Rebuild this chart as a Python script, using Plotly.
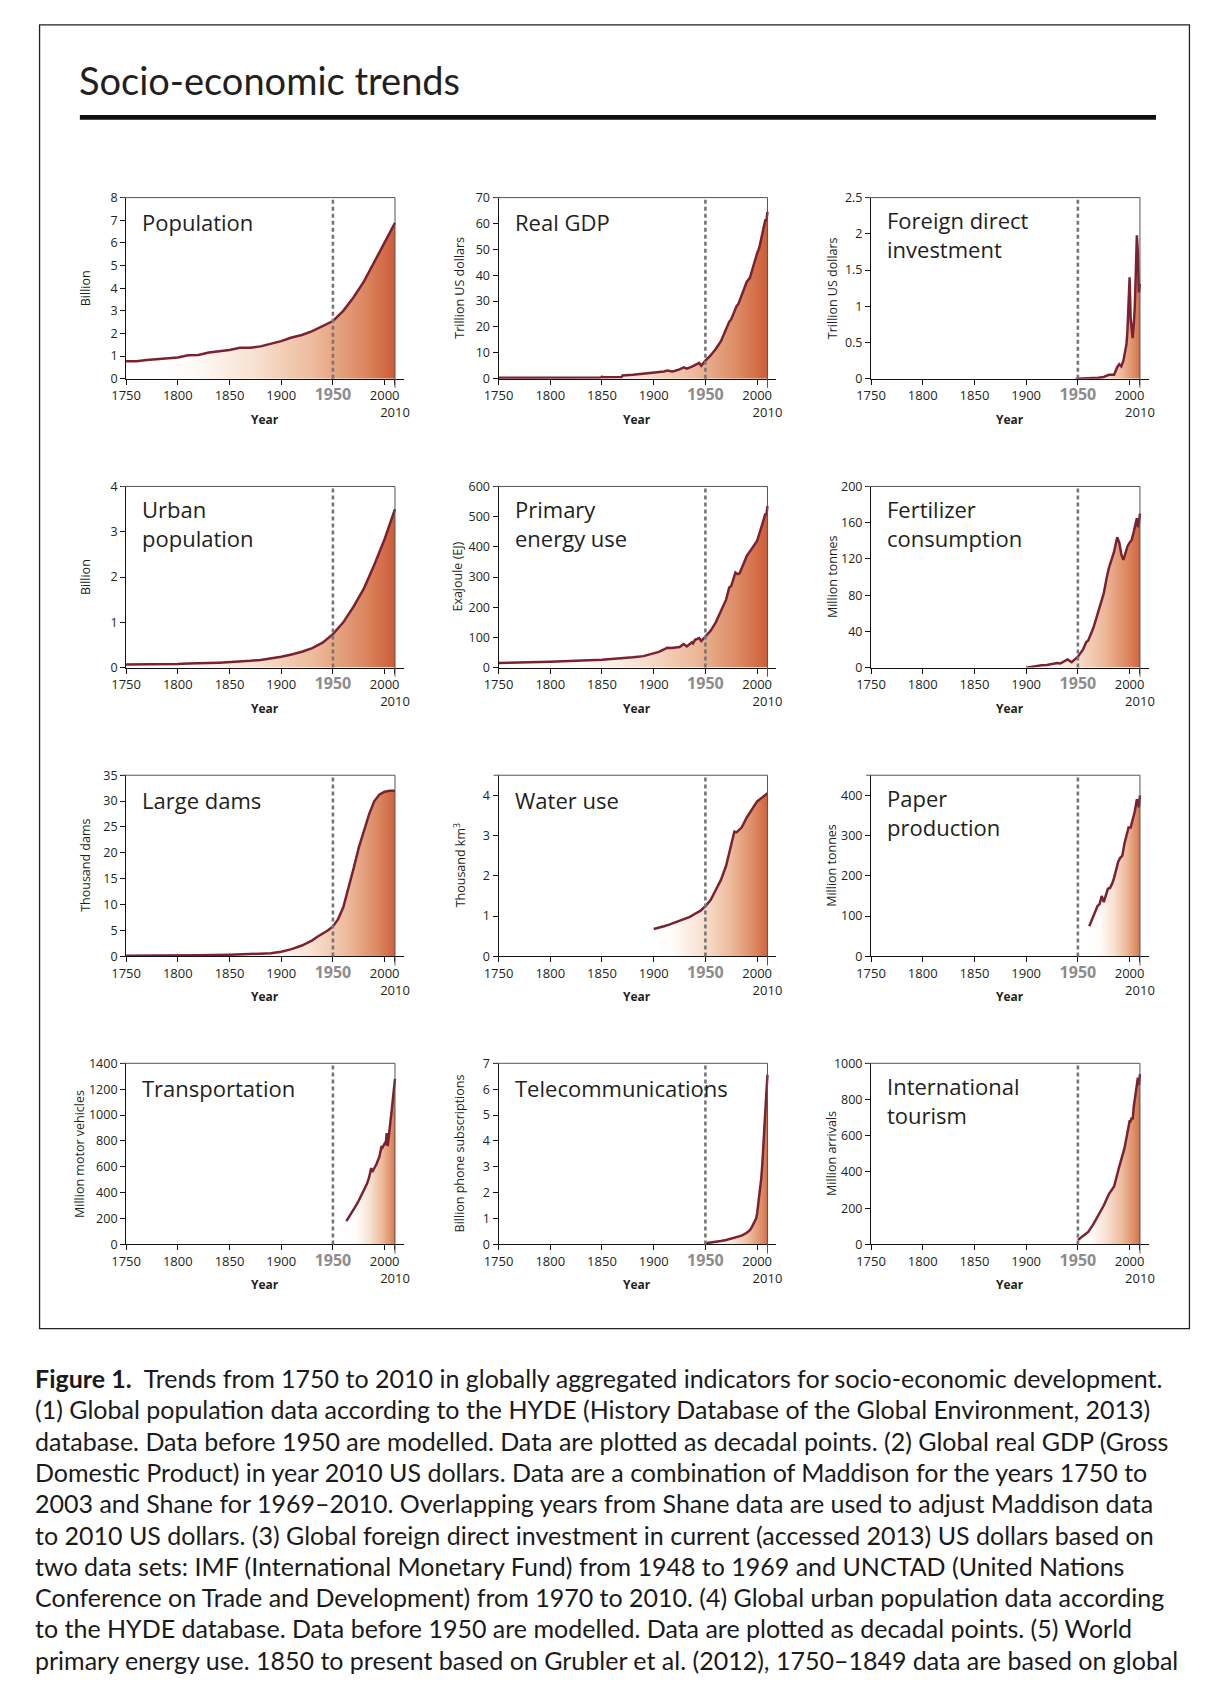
import plotly.graph_objects as go

W, H = 1220, 1692

# ---------------- data ----------------
pop_years = list(range(1750, 2011, 10))
population = [0.77, 0.77, 0.83, 0.87, 0.93, 0.94, 1.04, 1.05, 1.16, 1.21, 1.27, 1.37, 1.37, 1.43,
              1.55, 1.66, 1.82, 1.93, 2.10, 2.33, 2.55, 3.00, 3.60, 4.30, 5.15, 6.00, 6.88]

gdp_years = [1750, 1800, 1820, 1849, 1850, 1851, 1869, 1870, 1880, 1890, 1900, 1910, 1913, 1918, 1920,
             1925, 1929, 1932, 1937, 1940, 1944, 1946, 1950, 1955, 1960, 1965, 1970, 1973, 1975, 1980,
             1982, 1985, 1990, 1993, 1995, 2000, 2002, 2005, 2008, 2009, 2010]
gdp = [0.35, 0.4, 0.45, 0.5, 0.8, 0.55, 0.7, 1.3, 1.5, 1.9, 2.3, 2.8, 3.2, 2.8, 3.0,
       3.6, 4.4, 3.9, 4.7, 5.4, 6.1, 5.0, 7.0, 9.0, 11.5, 14.5, 19.0, 22.0, 23.0, 28.0,
       29.0, 32.0, 37.5, 39.0, 42.0, 48.5, 50.5, 56.0, 61.5, 61.0, 64.5]

fdi_years = [1948, 1960, 1970, 1975, 1980, 1985, 1988, 1990, 1992, 1994, 1995, 1996, 1997, 1998, 1999,
             2000, 2001, 2002, 2003, 2004, 2005, 2006, 2007, 2008, 2009, 2010]
fdi = [0.0, 0.005, 0.013, 0.025, 0.055, 0.056, 0.16, 0.20, 0.17, 0.25, 0.34, 0.39, 0.48, 0.69, 1.08,
       1.40, 0.83, 0.62, 0.56, 0.74, 0.99, 1.46, 1.98, 1.74, 1.19, 1.31]

urban_years = list(range(1750, 2011, 10))
urban = [0.07, 0.07, 0.07, 0.07, 0.08, 0.08, 0.09, 0.09, 0.10, 0.11, 0.12, 0.13, 0.15, 0.17,
         0.20, 0.24, 0.29, 0.35, 0.43, 0.55, 0.74, 1.00, 1.35, 1.75, 2.27, 2.84, 3.50]

energy_years = [1750, 1800, 1850, 1860, 1870, 1880, 1890, 1900, 1905, 1910, 1913, 1917, 1920, 1925,
                1929, 1932, 1937, 1938, 1940, 1944, 1946, 1950, 1955, 1960, 1965, 1970, 1973, 1975,
                1979, 1981, 1983, 1985, 1990, 1995, 2000, 2005, 2008, 2009, 2010]
energy = [15, 19, 26, 28, 30, 34, 38, 46, 52, 60, 66, 65, 66, 68,
          78, 70, 84, 80, 92, 98, 88, 103, 122, 150, 185, 225, 265, 270,
          315, 310, 312, 330, 370, 395, 420, 475, 510, 505, 535]

fert_years = [1900, 1905, 1910, 1915, 1920, 1925, 1930, 1933, 1937, 1940, 1944, 1950, 1955, 1958,
              1960, 1965, 1970, 1975, 1978, 1980, 1985, 1988, 1990, 1992, 1994, 1996, 1998, 2000,
              2002, 2004, 2006, 2007, 2008, 2009, 2010]
fertilizer = [0, 1, 2, 2.5, 3, 4, 5, 4.5, 7, 9, 6, 12, 20, 28,
              30, 44, 63, 82, 100, 110, 128, 144, 138, 125, 119, 128, 134, 138,
              141, 150, 160, 165, 155, 160, 170]

dam_years = [1750, 1800, 1820, 1850, 1870, 1880, 1890, 1900, 1910, 1920, 1930, 1935, 1940, 1945,
             1950, 1955, 1960, 1965, 1970, 1975, 1980, 1985, 1990, 1995, 2000, 2005, 2010]
dams = [0.1, 0.1, 0.2, 0.3, 0.4, 0.5, 0.6, 0.9, 1.4, 2.1, 3.1, 3.8, 4.4, 5.0,
        5.8, 7.2, 9.5, 13.0, 17.0, 21.0, 24.5, 27.5, 30.0, 31.3, 31.8, 32.0, 32.0]

water_years = [1900, 1905, 1910, 1915, 1920, 1925, 1930, 1935, 1940, 1945, 1950, 1955, 1960, 1965,
               1970, 1975, 1978, 1980, 1985, 1990, 1995, 2000, 2005, 2010]
water = [0.68, 0.71, 0.75, 0.79, 0.84, 0.88, 0.93, 0.98, 1.06, 1.13, 1.25, 1.40, 1.65, 1.90,
         2.25, 2.75, 3.10, 3.08, 3.20, 3.45, 3.65, 3.85, 3.95, 4.05]

paper_years = [1961, 1963, 1965, 1967, 1969, 1971, 1973, 1975, 1977, 1979, 1981, 1983, 1985, 1987,
               1989, 1991, 1993, 1995, 1997, 1999, 2001, 2003, 2005, 2007, 2008, 2009, 2010]
paper = [75, 88, 100, 112, 125, 130, 150, 135, 150, 168, 170, 180, 195, 215,
         235, 245, 250, 280, 300, 320, 320, 340, 360, 390, 385, 370, 400]

transport_years = [1963, 1965, 1968, 1970, 1973, 1975, 1978, 1980, 1983, 1985, 1987, 1988, 1990, 1992,
                   1995, 1997, 1998, 2000, 2001, 2002, 2003, 2004, 2005, 2006, 2007, 2008, 2009, 2010]
transport = [180, 205, 240, 265, 310, 340, 390, 420, 470, 520, 590, 560, 590, 620,
             680, 760, 750, 780, 770, 860, 760, 850, 900, 980, 1050, 1150, 1200, 1280]

telecom_years = [1950, 1955, 1960, 1965, 1970, 1975, 1980, 1985, 1990, 1993, 1995, 1997, 1999, 2000,
                 2001, 2002, 2003, 2004, 2005, 2006, 2007, 2008, 2009, 2010]
telecom = [0.05, 0.07, 0.10, 0.13, 0.17, 0.22, 0.28, 0.34, 0.45, 0.55, 0.68, 0.85, 1.0, 1.2,
           1.5, 1.75, 2.1, 2.55, 3.1, 3.7, 4.5, 5.3, 5.9, 6.55]

tourism_years = [1950, 1955, 1960, 1965, 1970, 1975, 1980, 1985, 1990, 1995, 2000, 2001, 2002, 2003,
                 2004, 2005, 2006, 2007, 2008, 2009, 2010]
tourism = [25, 46, 69, 112, 166, 215, 278, 320, 430, 530, 680, 680, 700, 690,
           760, 800, 845, 900, 920, 880, 940]

x_tickvals = [1750, 1800, 1850, 1900, 1950, 2000, 2010]
x_ticktext = ["1750", "1800", "1850", "1900",
              "<b><span style='color:#8c8c8c;font-size:16px'>1950</span></b>", "2000", "<br>2010"]

panel_titles = ["Population", "Real GDP", "Foreign direct<br>investment",
                "Urban<br>population", "Primary<br>energy use", "Fertilizer<br>consumption",
                "Large dams", "Water use", "Paper<br>production",
                "Transportation", "Telecommunications", "International<br>tourism"]
y_titles = ["Billion", "Trillion US dollars", "Trillion US dollars",
            "Billion", "Exajoule (EJ)", "Million tonnes",
            "Thousand dams", "Thousand km<sup>3</sup>", "Million tonnes",
            "Million motor vehicles", "Billion phone subscriptions", "Million arrivals"]
series_x = [pop_years, gdp_years, fdi_years, urban_years, energy_years, fert_years,
            dam_years, water_years, paper_years, transport_years, telecom_years, tourism_years]
series_y = [population, gdp, fdi, urban, energy, fertilizer,
            dams, water, paper, transport, telecom, tourism]
y_max = [8, 70, 2.5, 4, 600, 200, 35, 4.5, 450, 1400, 7, 1000]
y_tickvals = [list(range(0, 9)), list(range(0, 71, 10)), [0, 0.5, 1, 1.5, 2, 2.5],
              list(range(0, 5)), list(range(0, 601, 100)), list(range(0, 201, 40)),
              list(range(0, 36, 5)), [0, 1, 2, 3, 4], [0, 100, 200, 300, 400],
              list(range(0, 1401, 200)), list(range(0, 8)), list(range(0, 1001, 200))]
y_ticktext = [[str(v) for v in y_tickvals[0]], [str(v) for v in y_tickvals[1]],
              ["0", "0.5", "1", "1.5", "2", "2.5"],
              [str(v) for v in y_tickvals[3]], [str(v) for v in y_tickvals[4]],
              [str(v) for v in y_tickvals[5]], [str(v) for v in y_tickvals[6]],
              [str(v) for v in y_tickvals[7]], [str(v) for v in y_tickvals[8]],
              [str(v) for v in y_tickvals[9]], [str(v) for v in y_tickvals[10]],
              [str(v) for v in y_tickvals[11]]]

caption_lines = [
    "<b>Figure 1.</b>  Trends from 1750 to 2010 in globally aggregated indicators for socio-economic development.",
    "(1) Global population data according to the HYDE (History Database of the Global Environment, 2013)",
    "database. Data before 1950 are modelled. Data are plotted as decadal points. (2) Global real GDP (Gross",
    "Domestic Product) in year 2010 US dollars. Data are a combination of Maddison for the years 1750 to",
    "2003 and Shane for 1969–2010. Overlapping years from Shane data are used to adjust Maddison data",
    "to 2010 US dollars. (3) Global foreign direct investment in current (accessed 2013) US dollars based on",
    "two data sets: IMF (International Monetary Fund) from 1948 to 1969 and UNCTAD (United Nations",
    "Conference on Trade and Development) from 1970 to 2010. (4) Global urban population data according",
    "to the HYDE database. Data before 1950 are modelled. Data are plotted as decadal points. (5) World",
    "primary energy use. 1850 to present based on Grubler et al. (2012), 1750–1849 data are based on global",
]

# ---------------- style / layout ----------------
LINE = "#7b2230"
GRAD = [[0, "rgba(255,255,255,1)"], [0.15, "#fefaf7"], [0.4, "#f8e1d1"],
        [0.65, "#edb99a"], [0.85, "#db8961"], [1, "#cb5632"]]
grad_start = [1780, 1800, 1948, 1780, 1800, 1900, 1870, 1900, 1961, 1963, 1950, 1950]
ytitle_shift = [41, 39, 39, 41, 41, 39, 40, 39, 39, 46, 39, 39]

col_left = [113, 492, 871]
plot_w = 282.6
row_top = [190.5, 482.3, 774.0, 1065.0]
plot_h = 183
XMAX = 2018.5
FONT = "Open Sans"
TXT = "#231f20"
LABEL_SIZE = 22

fig = go.Figure()
shapes, annotations = [], []
layout_axes = {}

for i in range(12):
    r, c = divmod(i, 3)
    n = "" if i == 0 else str(i + 1)
    xa, ya = "x" + n, "y" + n
    x0 = col_left[c] / W
    x1 = (col_left[c] + plot_w) / W
    y1 = 1 - row_top[r] / H
    y0 = 1 - (row_top[r] + plot_h) / H

    fig.add_trace(go.Scatter(
        x=series_x[i], y=series_y[i], mode="lines",
        line=dict(color=LINE, width=2.5),
        fill="tozeroy",
        fillgradient=dict(type="horizontal", colorscale=GRAD, start=grad_start[i], stop=2010),
        xaxis=xa, yaxis=ya, hoverinfo="skip", showlegend=False))

    layout_axes["xaxis" + n] = dict(
        domain=[x0, x1], anchor=ya, range=[1750, XMAX], showgrid=False, zeroline=False,
        showline=True, linecolor="#111", linewidth=1, ticks="outside", ticklen=5,
        tickcolor="#111", tickwidth=1, tickvals=x_tickvals, ticktext=x_ticktext, tickangle=0,
        tickfont=dict(family=FONT, size=13, color=TXT), fixedrange=True)
    layout_axes["yaxis" + n] = dict(
        domain=[y0, y1], anchor=xa, range=[0, y_max[i]], showgrid=False, zeroline=False,
        showline=True, linecolor="#111", linewidth=1, ticks="outside", ticklen=5,
        tickcolor="#111", tickwidth=1, tickvals=y_tickvals[i], ticktext=y_ticktext[i], tickangle=0,
        tickfont=dict(family=FONT, size=12.5, color=TXT), fixedrange=True)

    # 1950 dashed marker
    shapes.append(dict(type="line", xref=xa, yref=ya + " domain", x0=1950, x1=1950, y0=0, y1=1,
                       line=dict(color="#767676", width=2.6, dash="4px,3px"), layer="above"))
    # box top and right, plus small tick at the top-left corner
    shapes.append(dict(type="line", xref=xa + " domain", yref=ya + " domain", x0=-5 / plot_w,
                       x1=(2010 - 1750) / (XMAX - 1750), y0=1, y1=1,
                       line=dict(color="#555", width=1), layer="above"))
    shapes.append(dict(type="line", xref=xa, yref=ya + " domain", x0=2010, x1=2010, y0=-0.05, y1=1,
                       line=dict(color="#555", width=1), layer="above"))

    two = "<br>" in panel_titles[i]
    annotations.append(dict(text=panel_titles[i], xref=xa + " domain", yref=ya + " domain", x=0, y=1,
                            xshift=14, yshift=(-37.0 if two else -24.5), xanchor="left", yanchor="middle",
                            align="left", showarrow=False,
                            font=dict(family=FONT, size=LABEL_SIZE, color=TXT)))
    annotations.append(dict(text=y_titles[i], xref=xa + " domain", yref=ya + " domain", x=0, y=0.5,
                            xshift=-ytitle_shift[i], textangle=-90, xanchor="center", yanchor="middle",
                            showarrow=False, font=dict(family=FONT, size=12.5, color=TXT)))
    annotations.append(dict(text="<b>Year</b>", xref=xa + " domain", yref=ya + " domain", x=0.5, y=0,
                            xshift=0, yshift=-40.5, xanchor="center", yanchor="middle",
                            showarrow=False, font=dict(family=FONT, size=12, color=TXT)))

# title, rule, frame
annotations.append(dict(text="Socio-economic trends", xref="paper", yref="paper", x=63 / W, y=1 - 71.5 / H,
                        xanchor="left", yanchor="middle", showarrow=False,
                        font=dict(family="Lato", size=38, color=TXT)))
shapes.append(dict(type="rect", xref="paper", yref="paper", x0=66 / W, x1=1161 / W,
                   y0=1 - 112 / H, y1=1 - 107 / H, fillcolor="#111", line=dict(width=0)))
shapes.append(dict(type="rect", xref="paper", yref="paper", x0=25 / W, x1=1195 / W,
                   y0=1 - 1333 / H, y1=1 - 16 / H, fillcolor="rgba(0,0,0,0)",
                   line=dict(color="#222", width=1.3)))

cap_y0, cap_dy = 1383, 31.6
for k, line in enumerate(caption_lines):
    annotations.append(dict(text=line, xref="paper", yref="paper", x=18 / W, y=1 - (cap_y0 + k * cap_dy) / H,
                            xanchor="left", yanchor="middle", showarrow=False,
                            font=dict(family="Lato", size=25, color="#1a1a1a")))

fig.update_layout(width=W, height=H, margin=dict(l=0, r=0, t=0, b=0),
                  paper_bgcolor="white", plot_bgcolor="white",
                  shapes=shapes, annotations=annotations, showlegend=False, **layout_axes)

fig.write_html("out.html", config={"displayModeBar": False},
               post_script="document.body.style.margin='0';document.body.style.overflow='hidden';")
